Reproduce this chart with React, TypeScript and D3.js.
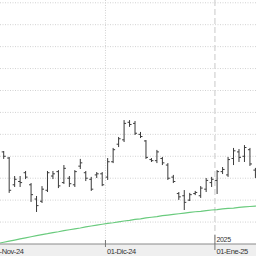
import * as d3 from 'd3'

// sessions shown (first two and last only feed the average line)
const dates = [
  '2024-11-01', '2024-11-04', '2024-11-05', '2024-11-06', '2024-11-07', '2024-11-08',
  '2024-11-11', '2024-11-12', '2024-11-13', '2024-11-14', '2024-11-15',
  '2024-11-18', '2024-11-19', '2024-11-20', '2024-11-21', '2024-11-22',
  '2024-11-25', '2024-11-26', '2024-11-27', '2024-11-28', '2024-11-29',
  '2024-12-02', '2024-12-03', '2024-12-04', '2024-12-05', '2024-12-06',
  '2024-12-09', '2024-12-10', '2024-12-11', '2024-12-12', '2024-12-13',
  '2024-12-16', '2024-12-17', '2024-12-18', '2024-12-19', '2024-12-20',
  '2024-12-23', '2024-12-24', '2024-12-27', '2024-12-30', '2024-12-31',
  '2025-01-02', '2025-01-03', '2025-01-06', '2025-01-07', '2025-01-08',
  '2025-01-09', '2025-01-10', '2025-01-13', '2025-01-14',
]

const open = [null, null,
  13.20, 12.92, 11.70, 11.85, 12.25, 11.70, 11.05, 10.95, 11.45, 12.10,
  12.30, 11.80, 12.00, 11.70, 12.55, 12.25, 11.95, 12.15, 12.20, 12.05,
  12.75, 13.55, 13.75, 14.55, 14.50, 14.00, 13.70, 12.85, 12.80, 12.90,
  12.60, 12.05, 11.30, 11.20, 11.00, 11.30, 11.20, 11.50, 11.80, 11.90,
  12.30, 12.15, 12.90, 13.20, 13.00, 13.30, 12.37, null]
const high = [null, null,
  13.24, 12.97, 12.10, 12.10, 12.33, 11.78, 11.19, 11.64, 12.33, 12.33,
  12.37, 12.60, 12.10, 12.37, 12.88, 12.33, 12.06, 12.28, 12.28, 12.92,
  13.38, 13.88, 14.65, 14.65, 14.61, 14.11, 13.74, 12.92, 13.29, 12.97,
  12.69, 12.15, 11.37, 11.46, 11.33, 11.42, 11.64, 12.01, 12.06, 12.37,
  12.51, 12.97, 13.38, 13.33, 13.51, 13.38, 12.47, null]
const low = [null, null,
  12.88, 11.33, 11.60, 11.60, 11.96, 10.92, 10.46, 10.87, 11.37, 11.96,
  11.55, 11.74, 11.60, 11.60, 12.42, 11.87, 11.42, 12.01, 11.64, 11.92,
  12.69, 13.42, 13.65, 14.34, 13.97, 13.83, 12.88, 12.74, 12.69, 12.60,
  11.92, 11.78, 11.01, 10.55, 10.96, 11.23, 11.10, 11.37, 11.60, 11.28,
  12.19, 12.06, 12.60, 12.74, 12.74, 12.56, 12.01, null]
const close = [null, null,
  13.00, 11.45, 11.95, 11.80, 12.05, 11.25, 10.75, 11.50, 12.25, 12.20,
  11.65, 12.45, 11.75, 12.30, 12.70, 12.00, 11.50, 12.20, 11.70, 12.75,
  13.30, 13.80, 14.50, 14.45, 14.05, 13.90, 12.95, 12.80, 13.20, 12.70,
  12.00, 11.85, 11.15, 10.90, 11.25, 11.35, 11.55, 11.90, 11.95, 12.30,
  12.40, 12.85, 13.25, 12.95, 13.40, 12.65, 12.15, null]

// long moving average
const ma = [
  8.98, 9.03, 9.08, 9.13, 9.18, 9.23, 9.28, 9.33, 9.38, 9.43,
  9.47, 9.52, 9.56, 9.61, 9.65, 9.69, 9.73, 9.78, 9.82, 9.86,
  9.90, 9.94, 9.97, 10.01, 10.05, 10.08, 10.12, 10.15, 10.19, 10.22,
  10.25, 10.29, 10.32, 10.35, 10.38, 10.41, 10.44, 10.47, 10.49, 10.52,
  10.55, 10.57, 10.60, 10.62, 10.64, 10.67, 10.69, 10.71, 10.73, 10.75,
]

const priceTicks = [10, 11, 12, 13, 14, 15, 16, 17, 18, 19, 20]
const monthNames = ['Ene', 'Feb', 'Mar', 'Abr', 'May', 'Jun', 'Jul', 'Ago', 'Sep', 'Oct', 'Nov', 'Dic']

const W = 256
const H = 256
const axisY = 244
const step = 5.472

const App = () => {
  const x = d3.scalePoint<string>()
    .domain(dates)
    .range([3.7 - 2 * step, 3.7 + 47 * step])
  const y = d3.scaleLinear().domain([9, 20]).range([axisY, 2.77])

  const maLine = d3.line<number>()
    .x((_, i) => x(dates[i])!)
    .y(d => y(d))

  // first session of each month / year
  const monthStarts = dates
    .map((d, i) => ({ d, i }))
    .filter(({ d, i }) => i === 0 || d.slice(0, 7) !== dates[i - 1].slice(0, 7))
  const fmt = (d: string) => {
    const [yy, mm] = d.split('-')
    return `01-${monthNames[+mm - 1]}-${yy.slice(2)}`
  }
  const tickX = (d: string) => x(d)! - 2.2

  return (
    <svg width={W} height={H} style={{ position: 'fixed', left: 0, top: 0, background: '#fff' }}
      fontFamily="'Liberation Sans', Arial, sans-serif">
      {priceTicks.map(t => (
        <line key={t} x1={0} x2={W} y1={y(t)} y2={y(t)}
          stroke="#d2d2d2" strokeDasharray="1,1.5" />
      ))}
      {monthStarts.map(({ d, i }) => {
        const newYear = i > 0 && d.slice(0, 4) !== dates[i - 1].slice(0, 4)
        return newYear
          ? <line key={d} x1={tickX(d)} x2={tickX(d)} y1={0} y2={axisY}
              stroke="#d8d8d8" strokeWidth={1.4} strokeDasharray="6,3" />
          : <line key={d} x1={tickX(d)} x2={tickX(d)} y1={0} y2={axisY}
              stroke="#d2d2d2" strokeDasharray="1,1.5" />
      })}

      <path d={maLine(ma) ?? ''} fill="none" stroke="#6acb7e" strokeWidth={1.2} />

      {dates.map((d, i) => {
        if (open[i] == null) return null
        const cx = x(d)!
        return (
          <g key={d} stroke="#3a3a3a" strokeWidth={1}>
            <line x1={cx} x2={cx} y1={y(high[i]!)} y2={y(low[i]!)} />
            <line x1={cx - 2} x2={cx} y1={y(open[i]!)} y2={y(open[i]!)} />
            <line x1={cx} x2={cx + 2} y1={y(close[i]!)} y2={y(close[i]!)} />
          </g>
        )
      })}

      <rect x={0} y={axisY} width={W} height={H - axisY} fill="#efefef" />
      <line x1={0} x2={W} y1={axisY} y2={axisY} stroke="#8a8a8a" />

      {monthStarts.map(({ d, i }) => {
        const tx = tickX(d)
        const newYear = i > 0 && d.slice(0, 4) !== dates[i - 1].slice(0, 4)
        return (
          <g key={d}>
            <line x1={tx} x2={tx} y1={newYear ? 235 : 240} y2={newYear ? 250 : 247} stroke="#777" />
            {newYear && (
              <text x={tx + 1.5} y={241.5} fontSize={7} fill="#333" letterSpacing={-0.3}>{d.slice(0, 4)}</text>
            )}
            <text x={tx + 1.5} y={254} fontSize={7.5} fill="#333" letterSpacing={-0.4}>{fmt(d)}</text>
          </g>
        )
      })}
    </svg>
  )
}

export default App
